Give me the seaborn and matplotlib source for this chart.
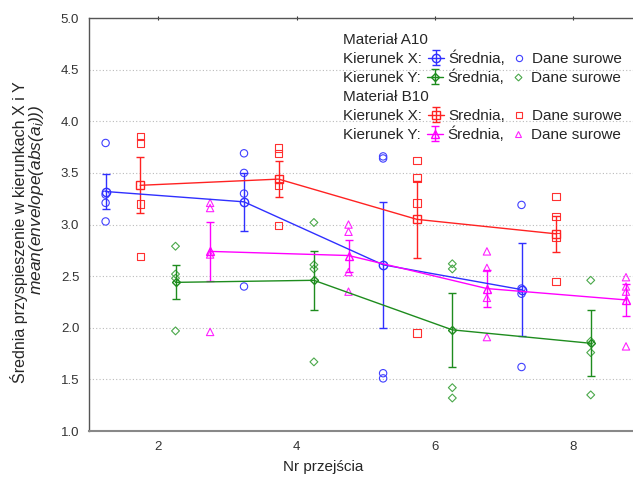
import matplotlib
matplotlib.use("Agg")
import matplotlib.pyplot as plt
from matplotlib.lines import Line2D
from matplotlib.legend import Legend
import seaborn as sns
import pandas as pd

# ---------------- dane ----------------
# pozycje na osi X (nr przejscia + przesuniecie grupy)
x_a10_x = [1.24, 3.24, 5.25, 7.25]
x_b10_x = [1.74, 3.74, 5.74, 7.75]
x_a10_y = [2.25, 4.25, 6.25, 8.25]
x_b10_y = [2.75, 4.75, 6.75, 8.76]

# srednie i polowa slupka bledu
mean_a10_x = [3.32, 3.22, 2.61, 2.37]
err_a10_x = [0.165, 0.28, 0.61, 0.45]
mean_a10_y = [2.44, 2.46, 1.98, 1.85]
err_a10_y = [0.165, 0.285, 0.355, 0.32]
mean_b10_x = [3.38, 3.44, 3.05, 2.91]
err_b10_x = [0.27, 0.175, 0.375, 0.175]
mean_b10_y = [2.74, 2.70, 2.38, 2.27]
err_b10_y = [0.285, 0.155, 0.18, 0.155]

# dane surowe (po 4 pomiary na punkt)
raw_a10_x = [[3.79, 3.29, 3.21, 3.03], [3.69, 3.50, 3.30, 2.40],
             [3.66, 3.64, 1.56, 1.51], [3.19, 2.38, 2.33, 1.62]]
raw_a10_y = [[2.79, 2.52, 2.48, 1.97], [3.02, 2.61, 2.57, 1.67],
             [2.62, 2.57, 1.42, 1.32], [2.46, 1.87, 1.76, 1.35]]
raw_b10_x = [[3.85, 3.79, 3.20, 2.69], [3.74, 3.69, 3.38, 2.99],
             [3.62, 3.45, 3.21, 1.95], [3.27, 3.08, 2.88, 2.45]]
raw_b10_y = [[3.21, 3.16, 2.71, 1.96], [3.00, 2.93, 2.54, 2.35],
             [2.74, 2.58, 2.29, 1.91], [2.49, 2.40, 2.35, 1.82]]

y_ticks = [1.0, 1.5, 2.0, 2.5, 3.0, 3.5, 4.0, 4.5, 5.0]
x_ticks = [2, 4, 6, 8]

sns.set_style("white")
plt.rcParams['font.family'] = ['Liberation Sans', 'DejaVu Sans']
plt.rcParams['mathtext.fontset'] = 'custom'
plt.rcParams['mathtext.it'] = 'Liberation Sans:italic'
plt.rcParams['mathtext.rm'] = 'Liberation Sans'

fig = plt.figure(figsize=(6.33, 4.8), dpi=100)
ax = fig.add_axes([0.1406, 0.102, 0.8746, 0.8604])

groups = [
    ("A10 X", x_a10_x, mean_a10_x, err_a10_x, raw_a10_x, 'o', '#3030ff', '#4040ff'),
    ("A10 Y", x_a10_y, mean_a10_y, err_a10_y, raw_a10_y, 'D', '#1e8c1e', '#4aa84a'),
    ("B10 X", x_b10_x, mean_b10_x, err_b10_x, raw_b10_x, 's', '#ff2222', '#ff3030'),
    ("B10 Y", x_b10_y, mean_b10_y, err_b10_y, raw_b10_y, '^', '#ff00ff', '#ff22ff'),
]

mean_handles = {}
raw_handles = {}
for name, xs, means, errs, raws, mk, col, rcol in groups:
    rows = [(x, v) for x, vals in zip(xs, raws) for v in vals]
    df = pd.DataFrame(rows, columns=["x", "y"])
    msize = 28 if mk != 'D' else 16
    sns.scatterplot(data=df, x="x", y="y", marker=mk, s=msize, facecolor='none',
                    edgecolor=rcol, linewidth=0.8, ax=ax, legend=False, zorder=3)
    eb = ax.errorbar(xs, means, yerr=errs, fmt=mk + '-', color=col, mfc='none',
                     mec=col, ms=6 if mk != 'D' else 4.5, lw=1, elinewidth=1,
                     capsize=3, capthick=1, mew=1, zorder=4)
    mean_handles[name] = eb
    raw_handles[name] = Line2D([], [], marker=mk, ls='none', mfc='none', mec=rcol,
                               ms=4.5 if mk != 'D' else 3.5, mew=0.8)

ax.set_xlim(1, 9)
ax.set_ylim(1, 5)
ax.set_xticks(x_ticks)
ax.set_yticks(y_ticks)
ax.set_yticklabels([f"{t:.1f}" for t in y_ticks])
ax.tick_params(axis='y', length=0, labelsize=9.5, pad=7, labelcolor='#333333')
ax.tick_params(axis='x', length=3, direction='inout', labelsize=9.5, pad=6,
               top=True, labelcolor='#333333', color='#333333')
ax.yaxis.grid(True, linestyle=(0, (1, 2)), color='#bbbbbb', lw=0.8)
ax.xaxis.grid(False)
for side in ['left', 'bottom', 'top']:
    ax.spines[side].set_color('#555555')
    ax.spines[side].set_linewidth(1.0)
ax.spines['bottom'].set_color('#888888')
ax.spines['bottom'].set_linewidth(1.5)
ax.spines['right'].set_visible(False)

ax.set_xlabel("")
ax.set_ylabel("")
fig.text(323 / 633, 0.027, "Nr przejścia", ha='center', va='center', fontsize=11)
fig.text(0.030, 0.517, "Średnia przyspieszenie w kierunkach X i Y", rotation=90,
         ha='center', va='center', fontsize=11.5)
fig.text(0.058, 0.583, r"mean(envelope(abs($a_i$)))", rotation=90, style='italic',
         ha='center', va='center', fontsize=12.5)

# legenda: kazdy wiersz osobno, zeby linie bazowe tekstu byly rowne
blank = Line2D([], [], ls='none')
legend_rows = [
    ([blank], ["Materiał A10"]),
    ([blank, mean_handles["A10 X"], raw_handles["A10 X"]],
     ["Kierunek X:", "Średnia,", "Dane surowe"]),
    ([blank, mean_handles["A10 Y"], raw_handles["A10 Y"]],
     ["Kierunek Y:", "Średnia,", "Dane surowe"]),
    ([blank], ["Materiał B10"]),
    ([blank, mean_handles["B10 X"], raw_handles["B10 X"]],
     ["Kierunek X:", "Srednia,", "Dane surowe"]),
    ([blank, mean_handles["B10 Y"], raw_handles["B10 Y"]],
     ["Kierunek Y:", "Średnia,", "Dane surowe"]),
]
for i, (hs, ls) in enumerate(legend_rows):
    y_bottom = (480 - (47 + 19 * i)) / 480
    leg = Legend(ax, hs, ls, ncol=len(hs), loc='lower left',
                 bbox_to_anchor=(323 / 633, y_bottom), bbox_transform=fig.transFigure,
                 frameon=False, fontsize=11, numpoints=1, borderpad=0,
                 borderaxespad=0, handlelength=1.0, handletextpad=0.3,
                 columnspacing=0.44)
    ax.add_artist(leg)

fig.savefig("out.png", dpi=100)
